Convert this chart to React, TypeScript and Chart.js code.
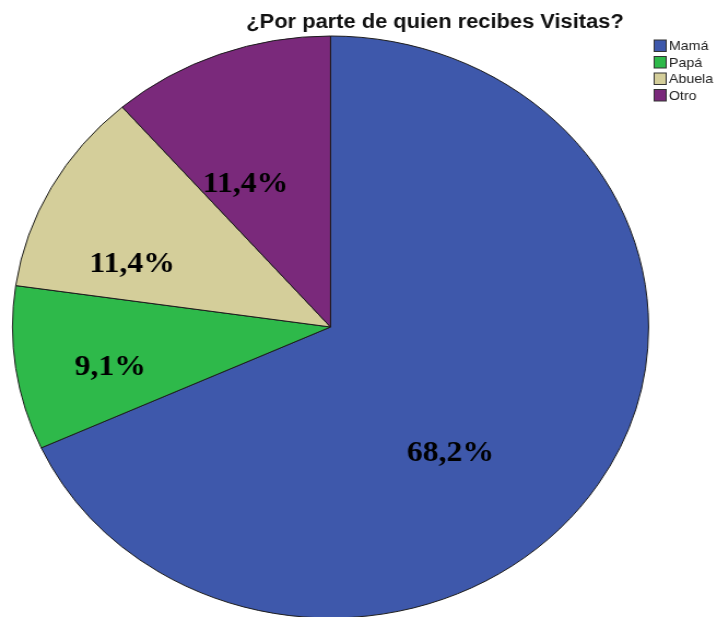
import React, { useEffect, useRef } from "react";
import { Chart, registerables } from "chart.js";

Chart.register(...registerables);

const TITLE = "¿Por parte de quien recibes Visitas?";
const categories = ["Mamá", "Papá", "Abuela", "Otro"];
const counts = [30, 4, 5, 5];
const colors = ["#3e58ab", "#2eb94a", "#d4ce9a", "#7a297b"];
// label placement tweaks (angle offset in degrees, fraction of radius)
const labelAngleOffset = [15.8, -2.5, -8.9, -7.7];
const labelRadiusFrac = [0.569, 0.705, 0.663, 0.566];

const SX = 717 / 656;
const CW = 656;
const CH = 660;

const overlayPlugin = {
  id: "overlay",
  afterDraw(chart: any) {
    const ctx = chart.ctx;
    const meta = chart.getDatasetMeta(0);
    const total = counts.reduce((a, b) => a + b, 0);
    ctx.save();
    // percent labels
    ctx.font = "bold 29px 'Liberation Serif', 'Times New Roman', serif";
    ctx.fillStyle = "#000";
    ctx.textAlign = "center";
    ctx.textBaseline = "alphabetic";
    meta.data.forEach((arc: any, i: number) => {
      const mid = (arc.startAngle + arc.endAngle) / 2 + (labelAngleOffset[i] * Math.PI) / 180;
      const r = arc.outerRadius * labelRadiusFrac[i];
      const x = arc.x + Math.cos(mid) * r;
      const y = arc.y + Math.sin(mid) * r;
      const txt = ((counts[i] / total) * 100).toFixed(1).replace(".", ",") + "%";
      ctx.fillText(txt, x, y + 9.8);
    });
    // title
    ctx.font = "bold 20px 'Liberation Sans', Arial, sans-serif";
    ctx.fillStyle = "#111";
    ctx.fillText(TITLE, 398, 28);
    // legend
    ctx.textAlign = "left";
    ctx.textBaseline = "middle";
    ctx.font = "13px 'Liberation Sans', Arial, sans-serif";
    categories.forEach((c, i) => {
      const top = 40 + i * 16.5;
      ctx.fillStyle = colors[i];
      ctx.fillRect(598.5, top, 11, 11.5);
      ctx.strokeStyle = "#333";
      ctx.lineWidth = 1;
      ctx.strokeRect(598.5, top, 11, 11.5);
      ctx.fillStyle = "#222";
      ctx.fillText(c, 612, top + 6.5);
    });
    ctx.restore();
  },
};

export default function App() {
  const ref = useRef<HTMLCanvasElement | null>(null);
  useEffect(() => {
    if (!ref.current) return;
    const chart = new Chart(ref.current, {
      type: "pie",
      data: {
        labels: categories,
        datasets: [
          {
            data: counts,
            backgroundColor: colors,
            borderColor: "#1c1c1c",
            borderWidth: 1,
          },
        ],
      },
      options: {
        responsive: false,
        animation: false,
        devicePixelRatio: 1,
        layout: { padding: { left: 10.9, right: 62.1, top: 35.5, bottom: 41.5 } },
        plugins: {
          legend: { display: false },
          tooltip: { enabled: false },
          title: { display: false },
        },
      },
      plugins: [overlayPlugin],
    });
    return () => chart.destroy();
  }, []);
  return (
    <div
      style={{
        position: "fixed",
        left: 0,
        top: 0,
        width: 717,
        height: 617,
        overflow: "hidden",
        background: "#fff",
      }}
    >
      <canvas
        ref={ref}
        width={CW}
        height={CH}
        style={{
          width: CW,
          height: CH,
          transform: `scaleX(${SX})`,
          transformOrigin: "0 0",
          display: "block",
        }}
      />
    </div>
  );
}
